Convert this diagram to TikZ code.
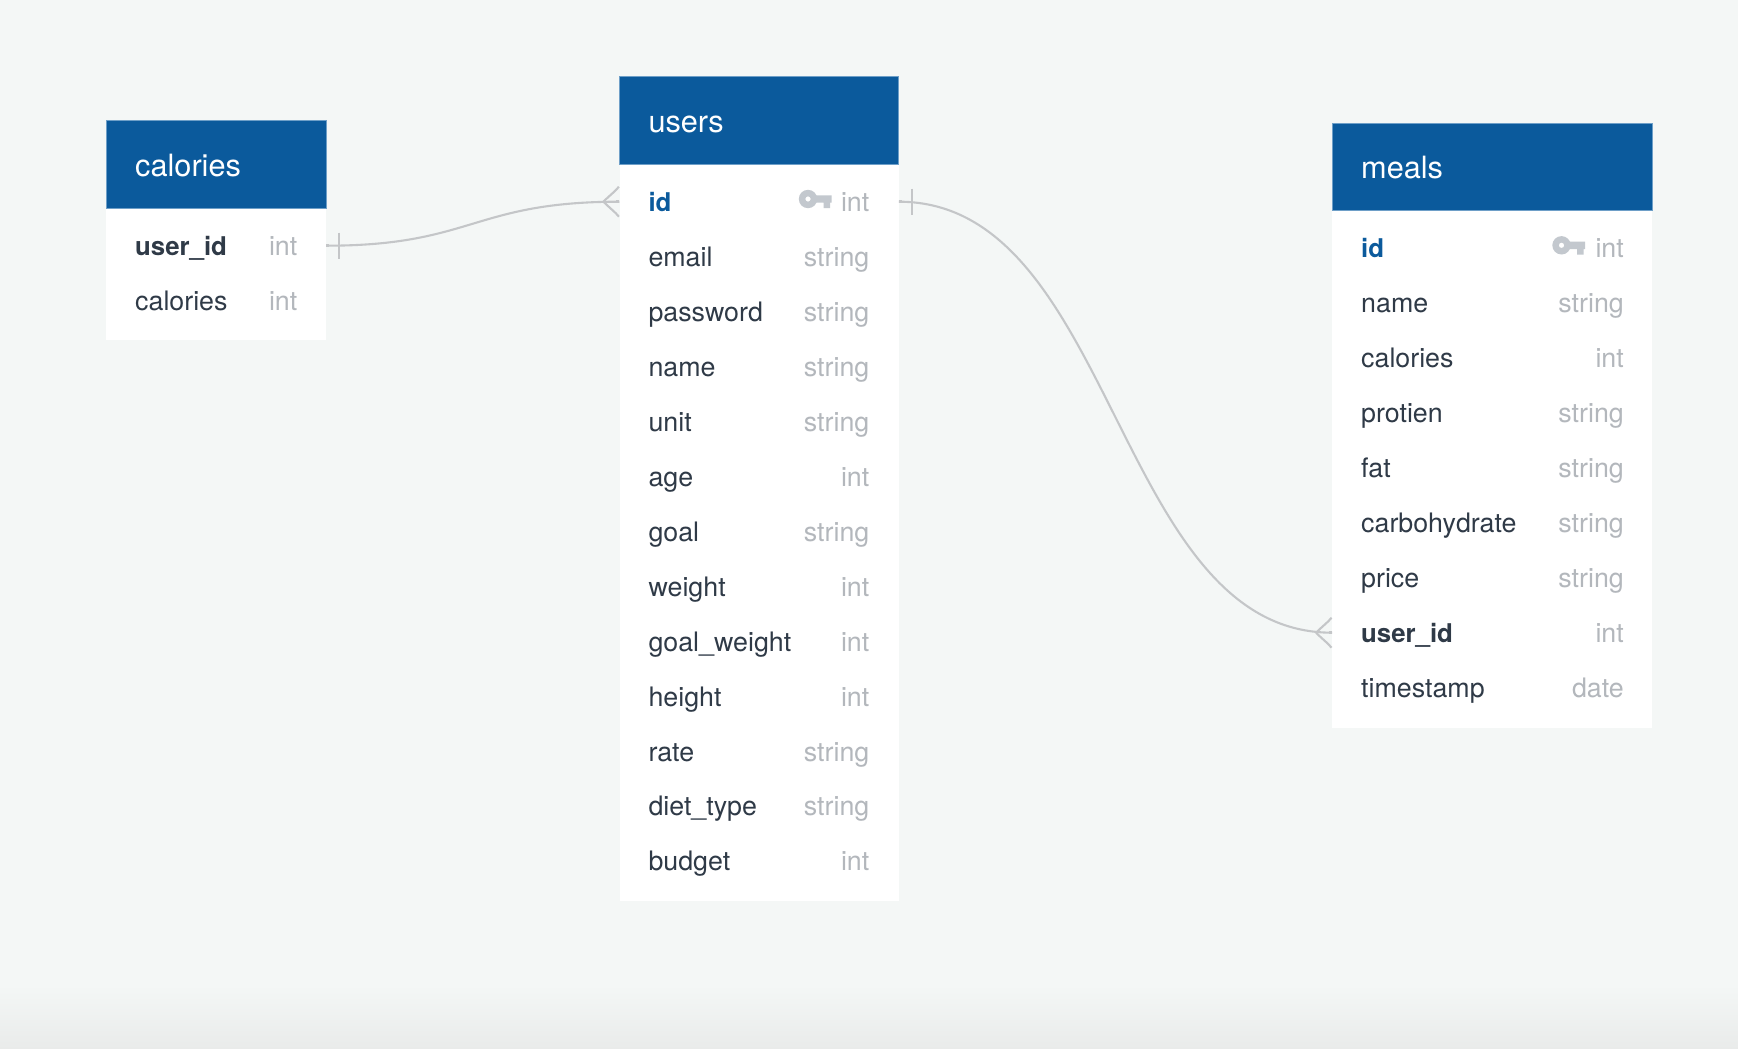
\documentclass[tikz,border=0pt]{standalone}
\usepackage{fontspec}
\setmainfont{TeX Gyre Heros}
\definecolor{pagebg}{HTML}{F4F7F6}
\definecolor{pagelow}{HTML}{E9EBEA}
\definecolor{headblue}{HTML}{0B5A9C}
\definecolor{headedge}{HTML}{6E9FC8}
\definecolor{rowtext}{HTML}{2F3A47}
\definecolor{typetext}{HTML}{B3B7BC}
\definecolor{keygrey}{HTML}{C3C8CE}
\definecolor{linkgrey}{HTML}{C4C6C8}
\tikzset{
  x=1pt,y=-1pt,
  headbox/.style={fill=headblue,draw=headedge,line width=0.6pt,inner sep=0pt,anchor=north west},
  headtext/.style={text=white,inner sep=0pt,anchor=base west,font=\fontsize{30.7}{36}\selectfont},
  bodybox/.style={fill=white,inner sep=0pt,anchor=north west},
  rowbox/.style={inner sep=0pt,anchor=west,minimum height=55pt},
  colname/.style={text=rowtext,inner sep=0pt,anchor=base west,font=\fontsize{26.8}{32}\selectfont},
  colfk/.style={colname,font=\fontsize{25.8}{32}\selectfont\bfseries},
  colpk/.style={colfk,text=headblue},
  coltype/.style={text=typetext,inner sep=0pt,anchor=base east,font=\fontsize{26.8}{32}\selectfont},
  link/.style={draw=linkgrey,line width=2.1pt},
}
% key glyph, origin at the ring centre
\newcommand{\keyglyph}[2]{
\fill[keygrey,even odd rule] (#1,#2) circle (9.2) (#1,#2) circle (2.7);
\fill[keygrey] (#1+6,#2-3.7) -- ++(17.7,0) -- ++(0,7.4) -- ++(-1.7,0) -- ++(0,5.5) -- ++(-6.4,0) -- ++(0,-5.5) -- ++(-9.6,0) -- cycle;
}
\begin{document}
\begin{tikzpicture}
\useasboundingbox (0,0) rectangle (1738,1049);
\fill[pagebg] (0,0) rectangle (1738,985);
\shade[top color=pagebg,bottom color=pagelow] (0,985) rectangle (1738,1049);
% calories
\node[bodybox,minimum width=220pt,minimum height=132pt] (calbody) at (106,208) {};
\node[headbox,minimum width=220pt,minimum height=88pt] (calhead) at (106,120.3) {};
\node[headtext] (caltitle) at (135,176) {calories};
\foreach \i/\n/\s/\t in {1/user\_id/colfk/int,2/calories/colname/int}
{
\node[rowbox,minimum width=220pt] (cal\i) at (106,245.7+55*\i-55) {};
\node[\s] (calname\i) at (135,255+55*\i-55) {\n};
\node[coltype] (caltype\i) at (297.5,255+55*\i-55) {\t};
}
% users
\node[bodybox,minimum width=279pt,minimum height=737pt] (usrbody) at (619.4,164) {};
\node[headbox,minimum width=279pt,minimum height=88.3pt] (usrhead) at (619.4,76) {};
\node[headtext] (usrtitle) at (648.3,132) {users};
\foreach \i/\n/\s/\t in {1/id/colpk/int,2/email/colname/string,3/password/colname/string,4/name/colname/string,5/unit/colname/string,6/age/colname/int,7/goal/colname/string,8/weight/colname/int,9/goal\_weight/colname/int,10/height/colname/int,11/rate/colname/string,12/diet\_type/colname/string,13/budget/colname/int}
{
\node[rowbox,minimum width=279pt] (usr\i) at (619.4,201.7+55*\i-55) {};
\node[\s] (usrname\i) at (648.3,211.2+54.98*\i-54.98) {\n};
\node[coltype] (usrtype\i) at (869.5,211.2+54.98*\i-54.98) {\t};
}
\keyglyph{808}{199}
% meals
\node[bodybox,minimum width=320pt,minimum height=517.5pt] (mealbody) at (1332,210.2) {};
\node[headbox,minimum width=320pt,minimum height=87pt] (mealhead) at (1332,123) {};
\node[headtext] (mealtitle) at (1361,178.5) {meals};
\foreach \i/\n/\s/\t in {1/id/colpk/int,2/name/colname/string,3/calories/colname/int,4/protien/colname/string,5/fat/colname/string,6/carbohydrate/colname/string,7/price/colname/string,8/user\_id/colfk/int,9/timestamp/colname/date}
{
\node[rowbox,minimum width=320pt] (meal\i) at (1332,247.7+55*\i-55) {};
\node[\s] (mealname\i) at (1361,257+55*\i-55) {\n};
\node[coltype] (mealtype\i) at (1624,257+55*\i-55) {\t};
}
\keyglyph{1561.5}{245.3}
% links
\draw[link] (cal1.east) .. controls +(146.5,0) and +(-146.5,0) .. (usr1.west);
\draw[link] (usr1.east) .. controls +(216.8,0) and +(-216.8,0) .. (meal8.west);
% one ends
\foreach \a in {cal1,usr1}
{
\draw[link] ([xshift=13]\a.east) ++(0,-13) -- ++(0,26);
\draw[linkgrey,line width=3pt] (\a.east) -- ++(3,0);
}
% many ends
\foreach \a in {usr1,meal8}
{
\draw[link] ([xshift=-16]\a.west) .. controls +(6,-6) and +(-3,4) .. ++(15.5,-15);
\draw[link] ([xshift=-16]\a.west) .. controls +(6,6) and +(-3,-4) .. ++(15.5,15);
\draw[linkgrey,line width=3pt] (\a.west) -- ++(-3,0);
}
\end{tikzpicture}
\end{document}
